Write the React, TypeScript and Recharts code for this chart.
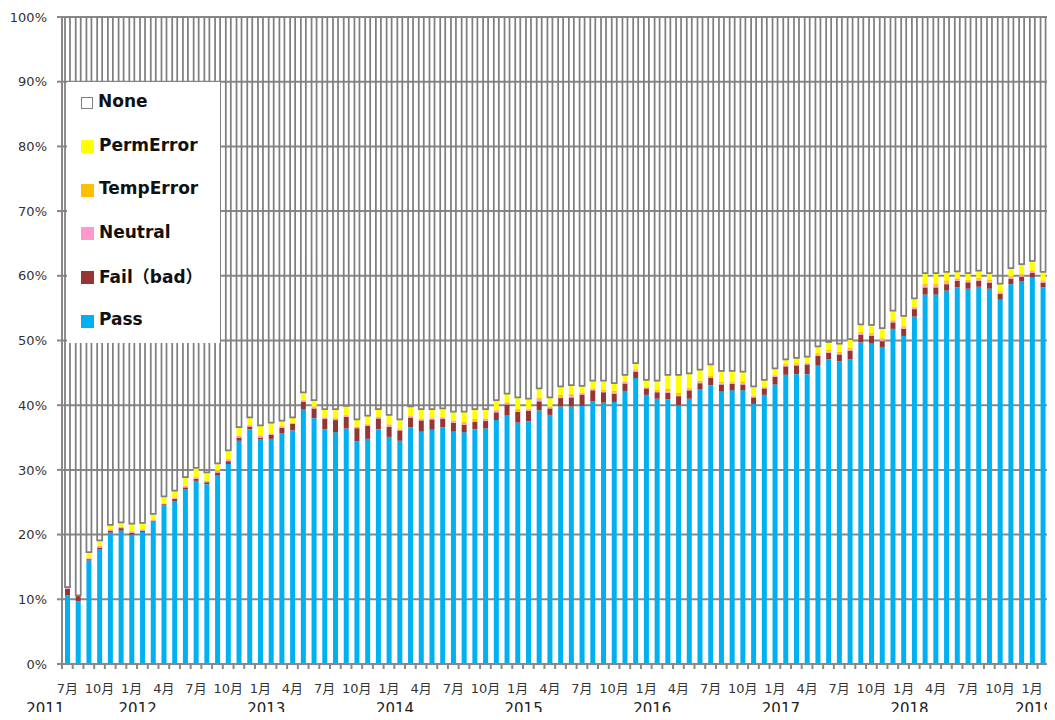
import React from "react";
import { BarChart, Bar, XAxis, YAxis, CartesianGrid, Legend } from "recharts";

// first category: July 2011, one bar per month
const startYear = 2011;
const startMonth = 7;

// shares in % of domains
const pass = [
	10.6, 9.7, 16.0, 17.7, 20.3, 20.6, 20.0, 20.4, 22.0, 24.5,
	25.2, 27.0, 28.3, 27.8, 29.2, 30.9, 34.5, 36.3, 34.7, 34.8,
	35.7, 36.1, 39.4, 38.0, 36.3, 35.8, 36.4, 34.4, 34.8, 36.3,
	35.1, 34.5, 36.6, 35.9, 36.2, 36.6, 36.0, 35.8, 36.3, 36.4,
	37.7, 38.4, 37.3, 37.5, 39.2, 38.5, 39.8, 39.8, 39.9, 40.6,
	40.4, 40.5, 42.2, 44.2, 41.6, 41.0, 40.9, 40.0, 41.0, 42.5,
	43.1, 42.1, 42.3, 42.3, 40.2, 41.6, 43.2, 44.7, 44.8, 44.8,
	46.2, 47.1, 46.8, 47.1, 49.7, 49.6, 49.0, 51.8, 50.7, 53.7,
	57.1, 57.1, 57.7, 58.2, 58.0, 58.3, 58.0, 56.3, 58.7, 59.2,
	59.8, 58.2, 58.5,
];

const fail = [
	1.0, 0.8, 0.2, 0.3, 0.3, 0.4, 0.3, 0.2, 0.15, 0.2,
	0.3, 0.3, 0.3, 0.3, 0.4, 0.45, 0.5, 0.4, 0.3, 0.6,
	0.8, 1.0, 1.15, 1.5, 1.6, 1.9, 1.8, 2.05, 2.0, 1.65,
	1.55, 1.6, 1.5, 1.75, 1.6, 1.3, 1.3, 1.2, 1.1, 1.15,
	1.2, 1.7, 1.7, 1.6, 1.4, 1.0, 1.3, 1.4, 1.75, 1.7,
	1.6, 1.3, 1.15, 1.0, 1.0, 1.0, 1.0, 1.4, 1.3, 0.9,
	1.1, 1.1, 1.0, 0.9, 1.0, 1.0, 1.2, 1.3, 1.35, 1.5,
	1.4, 1.0, 1.05, 1.35, 1.2, 1.15, 0.9, 1.0, 1.1, 1.15,
	1.1, 1.1, 1.0, 1.0, 1.0, 0.95, 0.95, 0.9, 0.85, 0.65,
	0.65, 0.75, 0.8,
];

const neutral = [
	0.2, 0.1, 0.15, 0.2, 0.2, 0.2, 0.2, 0.2, 0.1, 0.1,
	0.15, 0.2, 0.25, 0.2, 0.25, 0.3, 0.3, 0.2, 0.25, 0.15,
	0.2, 0.15, 0.2, 0.2, 0.2, 0.2, 0.25, 0.2, 0.2, 0.2,
	0.3, 0.2, 0.2, 0.2, 0.2, 0.2, 0.25, 0.25, 0.15, 0.15,
	0.3, 0.25, 0.1, 0.2, 0.2, 0.2, 0.2, 0.2, 0.2, 0.2,
	0.15, 0.15, 0.25, 0.2, 0.15, 0.15, 0.2, 0.15, 0.15, 0.15,
	0.15, 0.15, 0.2, 0.2, 0.15, 0.1, 0.15, 0.15, 0.15, 0.1,
	0.2, 0.2, 0.15, 0.2, 0.15, 0.15, 0.25, 0.25, 0.15, 0.25,
	0.25, 0.3, 0.25, 0.15, 0.15, 0.15, 0.2, 0.2, 0.2, 0.15,
	0.15, 0.15, 0.15,
];

const tempError = [
	0.05, 0, 0.05, 0.05, 0.05, 0.05, 0.05, 0.05, 0.05, 0.05,
	0.05, 0.05, 0.05, 0.05, 0.05, 0.05, 0.05, 0.05, 0.1, 0.1,
	0.1, 0.05, 0.1, 0.1, 0.1, 0.15, 0.1, 0.05, 0.1, 0.1,
	0.1, 0.1, 0.1, 0.1, 0.1, 0.1, 0.1, 0.15, 0.35, 0.25,
	0.1, 0.1, 0.3, 0.15, 0.3, 0.1, 0.3, 0.3, 0.1, 0.1,
	0.25, 0.3, 0.1, 0.15, 0.1, 0.25, 0.4, 0.35, 0.2, 0.25,
	0.25, 0.25, 0.2, 0.3, 0.1, 0.15, 0.1, 0.2, 0.2, 0.15,
	0.25, 0.25, 0.25, 0.2, 0.25, 0.25, 0.2, 0.1, 0.25, 0.1,
	0.35, 0.3, 0.35, 0.25, 0.25, 0.25, 0.2, 0.2, 0.15, 0.25,
	0.25, 0.2, 0.2,
];

const permError = [
	0.05, 0, 0.9, 0.85, 0.65, 0.65, 1.15, 0.95, 0.9, 1.05,
	1.1, 1.35, 1.4, 1.25, 1.1, 1.3, 1.25, 1.15, 1.55, 1.65,
	0.8, 0.8, 1.15, 1.0, 1.2, 1.35, 1.35, 1.1, 1.3, 1.15,
	1.45, 1.4, 1.4, 1.45, 1.3, 1.3, 1.35, 1.6, 1.5, 1.45,
	1.5, 1.35, 1.8, 1.55, 1.5, 1.4, 1.3, 1.4, 1.05, 1.2,
	1.4, 1.15, 1.0, 0.95, 1.05, 1.4, 2.2, 2.8, 2.25, 1.7,
	1.7, 1.7, 1.6, 1.5, 1.45, 1.05, 1.05, 0.75, 0.8, 0.95,
	1.05, 1.25, 1.25, 1.35, 1.2, 1.25, 1.55, 1.45, 1.6, 1.3,
	1.6, 1.6, 1.3, 1.1, 1.0, 1.15, 1.05, 1.2, 1.3, 1.55,
	1.45, 1.3, 1.15,
];

const yTicks = [0, 10, 20, 30, 40, 50, 60, 70, 80, 90, 100];

const legendItems = [
	{ name: "None", color: "#ffffff", border: "#7f7f7f" },
	{ name: "PermError", color: "#ffff00" },
	{ name: "TempError", color: "#ffc000" },
	{ name: "Neutral", color: "#ff99cc" },
	{ name: "Fail（bad）", color: "#963634" },
	{ name: "Pass", color: "#00b0f0" },
];

const data = pass.map((p, i) => {
	const n = startMonth - 1 + i;
	const used = p + fail[i] + neutral[i] + tempError[i] + permError[i];
	return {
		key: `${startYear + Math.floor(n / 12)}-${(n % 12) + 1}`,
		year: startYear + Math.floor(n / 12),
		month: (n % 12) + 1,
		pass: p,
		fail: fail[i],
		neutral: neutral[i],
		tempError: tempError[i],
		permError: permError[i],
		none: 100 - used,
	};
});

const W = 1059;
const H = 720;
const VIEW_W = 1055;
const LEFT = 62;
const BAND = (W - LEFT) / data.length;
const GRID = "#888888";
const FONT = '"DejaVu Sans", "Noto Sans CJK JP", sans-serif';

const MonthTick = (props: any) => {
	const { x, y } = props;
	const index = props.index ?? props.payload?.index ?? 0;
	const d = data[index];
	if (!d) return null;
	const showMonth = d.month % 3 === 1;
	const showYear = d.month === 1 || index === 0;
	// keep the last year label inside the visible area
	const yearX = index === 0 ? x - 22 : Math.min(x + 6, VIEW_W - 21);
	return (
		<g>
			<line x1={x - BAND / 2} x2={x - BAND / 2} y1={y} y2={y + 5} stroke={GRID} strokeWidth={2} />
			{index === data.length - 1 && (
				<line x1={x + BAND / 2} x2={x + BAND / 2} y1={y} y2={y + 5} stroke={GRID} strokeWidth={2} />
			)}
			{showMonth && (
				<text x={x} y={y + 29} textAnchor="middle" fontSize={13} fill="#333" fontFamily={FONT}>
					{d.month}月
				</text>
			)}
			{showYear && (
				<text x={yearX} y={y + 50} textAnchor="middle" fontSize={15} fill="#222" fontFamily={FONT}>
					{d.year}
				</text>
			)}
		</g>
	);
};

const LegendBox = () => (
	<div style={{ width: 153, height: 261, background: "#fff", position: "relative", fontFamily: FONT }}>
		{legendItems.map((it, i) => (
			<div
				key={it.name}
				style={{
					position: "absolute",
					left: 14,
					top: 9 + i * 43.6,
					height: 20,
					display: "flex",
					alignItems: "center",
					whiteSpace: "nowrap",
				}}
			>
				<span
					style={{
						display: "inline-block",
						width: it.border ? 10 : 13,
						height: it.border ? 10 : 13,
						background: it.color,
						border: it.border ? `1.5px solid ${it.border}` : "none",
						marginTop: 4,
					}}
				/>
				<span style={{ marginLeft: 5, fontSize: 17, fontWeight: "bold", color: "#111" }}>{it.name}</span>
			</div>
		))}
	</div>
);

const App: React.FC = () => {
	return (
		<div style={{ margin: -8, width: VIEW_W, height: H, overflow: "hidden", background: "#fff" }}>
			<BarChart width={W} height={H} data={data} margin={{ top: 17, right: 0, left: 0, bottom: 0 }}>
				<CartesianGrid vertical={false} stroke={GRID} strokeWidth={2} />
				<XAxis
					dataKey="key"
					height={56}
					interval={0}
					tickLine={false}
					tickSize={0}
					tickMargin={0}
					axisLine={{ stroke: GRID, strokeWidth: 2 }}
					tick={(p: any) => <MonthTick {...p} />}
				/>
				<YAxis
					type="number"
					domain={[0, 100]}
					allowDataOverflow
					ticks={yTicks}
					width={LEFT}
					tickFormatter={(v: number) => `${v}%`}
					axisLine={{ stroke: GRID, strokeWidth: 2 }}
					tickLine={{ stroke: GRID, strokeWidth: 2 }}
					tickSize={5}
					tickMargin={10}
					tick={{ fill: "#333", fontSize: 13, fontFamily: FONT }}
				/>
				<Legend
					layout="vertical"
					align="center"
					verticalAlign="middle"
					wrapperStyle={{ left: 67, top: 82, width: 153, height: 261 }}
					content={() => <LegendBox />}
				/>
				<Bar dataKey="pass" stackId="a" fill="#00b0f0" barSize={5} isAnimationActive={false} />
				<Bar dataKey="fail" stackId="a" fill="#963634" barSize={5} isAnimationActive={false} />
				<Bar dataKey="neutral" stackId="a" fill="#ff99cc" barSize={5} isAnimationActive={false} />
				<Bar dataKey="tempError" stackId="a" fill="#ffc000" barSize={5} isAnimationActive={false} />
				<Bar dataKey="permError" stackId="a" fill="#ffff00" barSize={5} isAnimationActive={false} />
				<Bar
					dataKey="none"
					stackId="a"
					fill="none"
					stroke="#7f7f7f"
					strokeWidth={1.75}
					barSize={5}
					isAnimationActive={false}
				/>
			</BarChart>
		</div>
	);
};

export default App;
